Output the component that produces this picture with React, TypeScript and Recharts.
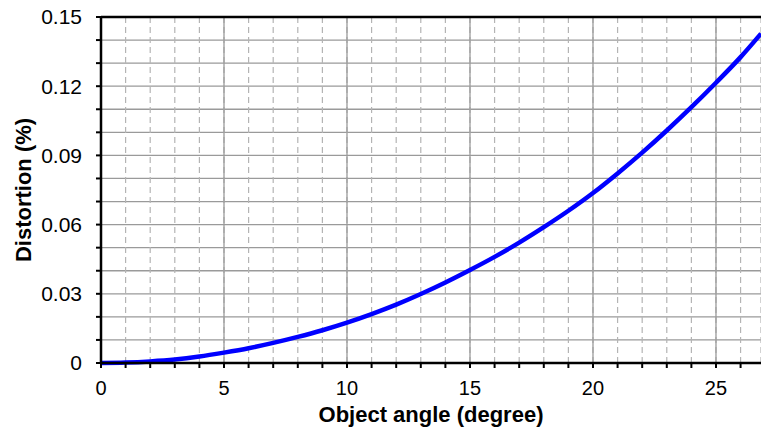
import { CartesianGrid, Line, LineChart, ReferenceLine, XAxis, YAxis } from "recharts";

const angles = [0, 1, 2, 3, 4, 5, 6, 7, 8, 9, 10, 11, 12, 13, 14, 15, 16, 17, 18, 19, 20, 21, 22, 23, 24, 25, 26, 26.83];
const distortion = [
  0, 0.0002, 0.0007, 0.0015, 0.0028, 0.0045, 0.0064, 0.0087, 0.0113, 0.0142, 0.0175, 0.0212, 0.0253, 0.0299,
  0.0349, 0.0403, 0.046, 0.0522, 0.0589, 0.066, 0.0737, 0.0822, 0.0912, 0.1008, 0.1109, 0.1215, 0.1326, 0.1428,
];
const xTicks = [0, 1, 2, 3, 4, 5, 6, 7, 8, 9, 10, 11, 12, 13, 14, 15, 16, 17, 18, 19, 20, 21, 22, 23, 24, 25, 26];
const majorX = [5, 10, 15, 20, 25];
const yTicks = [0, 0.01, 0.02, 0.03, 0.04, 0.05, 0.06, 0.07, 0.08, 0.09, 0.1, 0.11, 0.12, 0.13, 0.14, 0.15];

const data = angles.map((a, i) => ({ angle: a, value: distortion[i] }));

const font = "'Liberation Sans', Arial, sans-serif";

function XTitle({ viewBox }: any) {
  const { x, y, width } = viewBox;
  return (
    <text x={x + width / 2} y={y + 59} textAnchor="middle" fontFamily={font} fontSize={22} fontWeight="bold" fill="#000">
      Object angle (degree)
    </text>
  );
}

function YTitle({ viewBox }: any) {
  const { y, height } = viewBox;
  const cy = y + height / 2;
  return (
    <text
      x={31}
      y={cy}
      transform={`rotate(-90, 31, ${cy})`}
      textAnchor="middle"
      fontFamily={font}
      fontSize={22}
      fontWeight="bold"
      fill="#000"
    >
      Distortion (%)
    </text>
  );
}

export default function App() {
  return (
    <div style={{ position: "absolute", left: 0, top: 0, background: "#fff" }}>
      <LineChart width={761} height={433} data={data} margin={{ top: 17, right: 0, left: 0, bottom: 0 }}>
        <CartesianGrid vertical={false} stroke="#9a9a9a" strokeWidth={1.3} />
        <CartesianGrid horizontal={false} stroke="#b4b4b4" strokeWidth={1.2} strokeDasharray="6 4" />
        {majorX.map((v) => (
          <ReferenceLine key={v} x={v} stroke="#9a9a9a" strokeWidth={1.3} />
        ))}
        <ReferenceLine y={0.15} stroke="#000" strokeWidth={2.5} />
        <XAxis
          dataKey="angle"
          type="number"
          domain={[0, 26.83]}
          ticks={xTicks}
          allowDataOverflow
          height={70}
          tickSize={5}
          tickMargin={13}
          tickFormatter={(v: number) => (v % 5 === 0 ? String(v) : "")}
          tick={{ fill: "#000", fontSize: 20, fontFamily: font }}
          axisLine={{ stroke: "#000", strokeWidth: 2.5 }}
          tickLine={{ stroke: "#000", strokeWidth: 2 }}
          interval={0}
          label={<XTitle />}
        />
        <YAxis
          type="number"
          domain={[0, 0.15]}
          ticks={yTicks}
          width={101}
          tickSize={5}
          tickMargin={14}
          tickFormatter={(v: number) => {
            const k = Math.round(v * 100);
            if (k % 3 !== 0) return "";
            return k === 0 ? "0" : v.toFixed(2);
          }}
          tick={{ fill: "#000", fontSize: 21, fontFamily: font }}
          axisLine={{ stroke: "#000", strokeWidth: 2.5 }}
          tickLine={{ stroke: "#000", strokeWidth: 2 }}
          interval={0}
          label={<YTitle />}
        />
        <Line
          dataKey="value"
          type="monotone"
          stroke="#0000ff"
          strokeWidth={4.5}
          dot={false}
          activeDot={false}
          isAnimationActive={false}
        />
      </LineChart>
    </div>
  );
}
